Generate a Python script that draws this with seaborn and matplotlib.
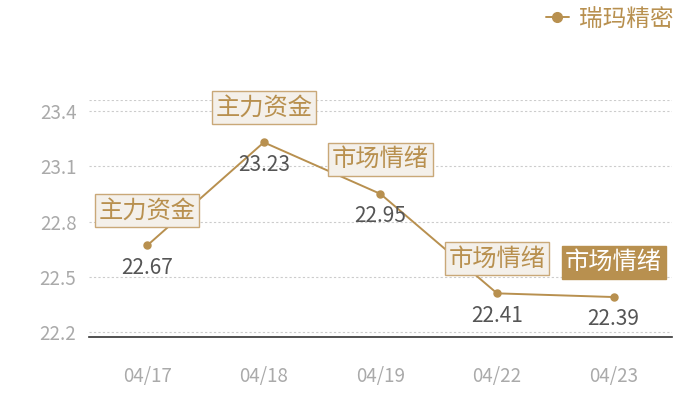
import matplotlib.pyplot as plt
import pandas as pd
import seaborn as sns
from matplotlib.lines import Line2D

# Data
dates = ["04/17", "04/18", "04/19", "04/22", "04/23"]
prices = [22.67, 23.23, 22.95, 22.41, 22.39]
tags = ["主力资金", "主力资金", "市场情绪", "市场情绪", "市场情绪"]
series_name = "瑞玛精密"
yticks = [22.2, 22.5, 22.8, 23.1, 23.4]

gold = "#b8904f"
df = pd.DataFrame({"date": dates, "price": prices})

sns.set_theme(style="white")
plt.rcParams["font.family"] = ["Noto Sans CJK SC", "DejaVu Sans"]

fig = plt.figure(figsize=(7, 4), dpi=100)
ax = fig.add_axes([0.127, 0.1575, 0.833, 0.5925])

sns.pointplot(data=df, x="date", y="price", color=gold, markers="o",
              markersize=5, linewidth=1.4, ax=ax, zorder=3)

ax.set_ylim(22.173, 23.46)
ax.set_xlim(-0.5, len(dates) - 0.5)
ax.set_yticks(yticks)
ax.set_yticklabels([f"{v:.1f}" for v in yticks])
for v in yticks + [ax.get_ylim()[1]]:
    ax.axhline(v, color="#cccccc", lw=0.8, ls=(0, (2, 2)), zorder=1)

for s in ["top", "right", "left"]:
    ax.spines[s].set_visible(False)
ax.spines["bottom"].set_color("#333333")
ax.spines["bottom"].set_linewidth(1.2)
ax.tick_params(axis="both", length=0, labelsize=13.5, colors="#aaaaaa", pad=9)
ax.tick_params(axis="x", pad=21)
ax.set_xlabel("")
ax.set_ylabel("")

# value labels and tag boxes
for i, (p, t) in enumerate(zip(prices, tags)):
    ax.annotate(f"{p:.2f}", (i, p), xytext=(0, -16), textcoords="offset points",
                ha="center", va="center", fontsize=15, color="#555555", zorder=4)
    last = i == len(prices) - 1
    ax.annotate(t, (i, p), xytext=(0, 25), textcoords="offset points",
                ha="center", va="center", fontsize=17.5,
                color="white" if last else gold, zorder=5,
                bbox=dict(boxstyle="square,pad=0.15",
                          fc=gold if last else "#f4f0ea",
                          ec=gold if last else "#c9a878", lw=1))

handle = Line2D([], [], color=gold, marker="o", markersize=7, lw=1.4)
leg = fig.legend([handle], [series_name], loc="center right",
                 bbox_to_anchor=(0.982, 0.952), frameon=False,
                 handlelength=1.0, handletextpad=0.4, fontsize=17,
                 borderaxespad=0.2)
for txt in leg.get_texts():
    txt.set_color(gold)

fig.savefig("out.png", dpi=100)
